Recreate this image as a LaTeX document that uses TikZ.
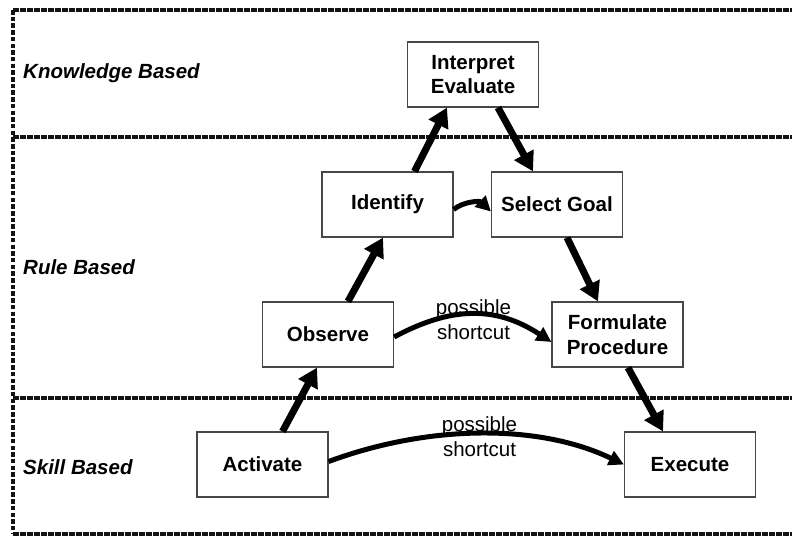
\documentclass[tikz,border=0pt]{standalone}
\usepackage{fontspec}
\setmainfont{Liberation Sans}
\usetikzlibrary{arrows.meta}
\begin{document}
\begin{tikzpicture}[x=1pt,y=-1pt,
  stepbox/.style={draw=black!72,line width=1.2pt,minimum width=131pt,minimum height=65pt,
    inner sep=0pt,align=center,font=\fontsize{20.5}{24.6}\selectfont\bfseries},
  band/.style={anchor=west,inner sep=0pt,font=\fontsize{20.5}{24.6}\selectfont\bfseries\itshape},
  flow/.style={line width=7pt,-{Triangle[length=19pt,width=21pt]}},
  short/.style={line width=5pt,-{Triangle[length=15pt,width=15pt]}},
  hline/.style={line width=4pt,dash pattern=on 5.5pt off 1.5pt,black!92},
  vline/.style={line width=4pt,dash pattern=on 4.5pt off 2.2pt,black!92},
  note/.style={align=center,inner sep=0pt,font=\fontsize{20.5}{24.6}\selectfont}]
\useasboundingbox (0,0) rectangle (792,536);

% band separators and left edge
\coordinate (tl) at (13,10);
\coordinate (bl) at (13,534);
\coordinate (k1) at (13,137);
\coordinate (k2) at (13,398);
\coordinate (tr) at (792,10);
\coordinate (r1) at (792,137);
\coordinate (r2) at (792,398);
\coordinate (br) at (792,534);
\draw[hline] (tl) -- (tr);
\draw[hline] (k1) -- (r1);
\draw[hline] (k2) -- (r2);
\draw[hline] (bl) -- (br);
\draw[vline] (tl) -- (bl);

% band labels
\node[band] (kb) at (23,73) {Knowledge Based};
\node[band] (rb) at (23,267) {Rule Based};
\node[band] (sb) at (23,467) {Skill Based};

% steps
\node[stepbox] (int)  at (473,74.5)  {Interpret\\Evaluate};
\node[stepbox] (idf)  at (387.5,204.5) {Identify};
\node[stepbox] (sg)   at (557,204.5) {Select Goal};
\node[stepbox] (obs)  at (328,334.5) {Observe};
\node[stepbox] (form) at (617.5,334.5) {Formulate\\Procedure};
\node[stepbox] (act)  at (262.5,464.5) {Activate};
\node[stepbox] (exe)  at (690,464.5) {Execute};

% main ladder
\draw[flow] ([xshift=20pt]act.north) -- ([xshift=-11pt]obs.south);
\draw[flow] ([xshift=20pt]obs.north) -- ([xshift=-4.5pt]idf.south);
\draw[flow] ([xshift=27pt]idf.north) -- ([xshift=-26pt]int.south);
\draw[flow] ([xshift=25pt]int.south) -- ([xshift=-24pt]sg.north);
\draw[flow] ([xshift=10pt]sg.south) -- ([xshift=-19.5pt]form.north);
\draw[flow] ([xshift=10.5pt]form.south) -- ([xshift=-27pt]exe.north);

% short links
\draw[short] ([yshift=-5pt]idf.east) .. controls (464,201) and (480,201) .. ([yshift=-7pt]sg.west);
\draw[short] ([yshift=-2.5pt]obs.east) .. controls (450,307) and (495,305) .. ([yshift=-7.5pt]form.west);
\draw[short] ([yshift=3pt]act.east) .. controls (430,424) and (540,424) .. (exe.west);

\node[note] (sc1) at (473.5,319.5) {possible\\shortcut};
\node[note] (sc2) at (479.5,436.5) {possible\\shortcut};
\end{tikzpicture}
\end{document}
